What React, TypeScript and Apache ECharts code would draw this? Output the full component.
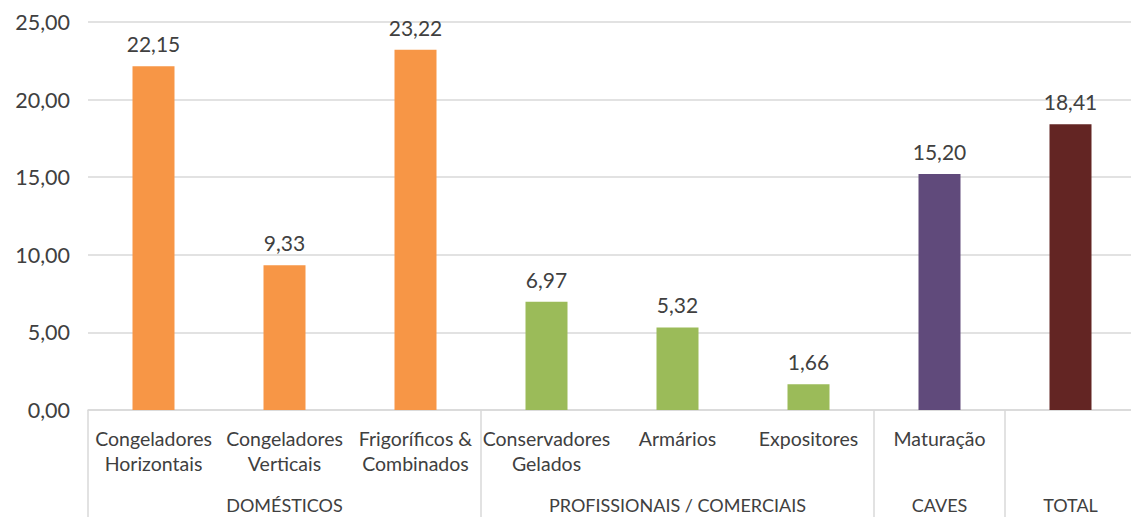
import React, { useEffect, useRef } from "react";
import * as echarts from "echarts";

// Categories (two-level axis: item + group)
const categories = [
  "Congeladores\nHorizontais",
  "Congeladores\nVerticais",
  "Frigoríficos &\nCombinados",
  "Conservadores\nGelados",
  "Armários",
  "Expositores",
  "Maturação",
  "",
];
const groupLabels = ["", "DOMÉSTICOS", "", "", "PROFISSIONAIS / COMERCIAIS", "", "CAVES", "TOTAL"];
// Indices where a new group begins (separator drawn at left boundary)
const groupStarts = [0, 3, 6, 7];

const values = [22.15, 9.33, 23.22, 6.97, 5.32, 1.66, 15.2, 18.41];
const barColors = ["#F79646", "#F79646", "#F79646", "#9BBB59", "#9BBB59", "#9BBB59", "#604A7B", "#632523"];

const yTicks = { min: 0, max: 25, interval: 5 };

const FONT = "Lato, 'Open Sans', sans-serif";
const TEXT = "#404040";
const GRID = "#D9D9D9";

const fmt = (v: number) => v.toFixed(2).replace(".", ",");

export default function App() {
  const ref = useRef<HTMLDivElement>(null);

  useEffect(() => {
    document.body.style.margin = "0";
    const chart = echarts.init(ref.current!, null, { renderer: "svg" });
    chart.setOption({
      animation: false,
      grid: { left: 88, right: 0, top: 22, bottom: 103, containLabel: false },
      xAxis: [
        {
          type: "category",
          data: categories,
          axisLine: { show: true, lineStyle: { color: GRID, width: 1.5 } },
          axisTick: {
            show: true,
            length: 110,
            interval: (i: number) => groupStarts.includes(i),
            lineStyle: { color: GRID, width: 1.5 },
          },
          axisLabel: {
            interval: 0,
            margin: 16,
            color: TEXT,
            fontFamily: FONT,
            fontSize: 19.5,
            lineHeight: 25,
          },
        },
        {
          type: "category",
          data: groupLabels,
          position: "bottom",
          axisLine: { show: false },
          axisTick: { show: false },
          axisLabel: {
            interval: 0,
            margin: 82,
            color: TEXT,
            fontFamily: FONT,
            fontSize: 18,
            lineHeight: 25,
          },
        },
      ],
      yAxis: {
        type: "value",
        min: yTicks.min,
        max: yTicks.max,
        interval: yTicks.interval,
        axisLine: { show: false },
        axisTick: { show: false },
        splitLine: { lineStyle: { color: GRID, width: 1.5 } },
        axisLabel: {
          formatter: (v: number) => fmt(v),
          color: TEXT,
          fontFamily: FONT,
          fontSize: 21.5,
          margin: 18,
        },
      },
      series: [
        {
          type: "bar",
          barWidth: 42,
          data: values.map((v, i) => ({ value: v, itemStyle: { color: barColors[i] } })),
          label: {
            show: true,
            position: "top",
            distance: 12,
            formatter: (p: any) => fmt(p.value),
            color: TEXT,
            fontFamily: FONT,
            fontSize: 21,
          },
        },
      ],
    });
    return () => chart.dispose();
  }, []);

  return (
    <div style={{ width: 1131, height: 517, overflow: "hidden" }}>
      <div ref={ref} style={{ width: 1136, height: 517 }} />
    </div>
  );
}
